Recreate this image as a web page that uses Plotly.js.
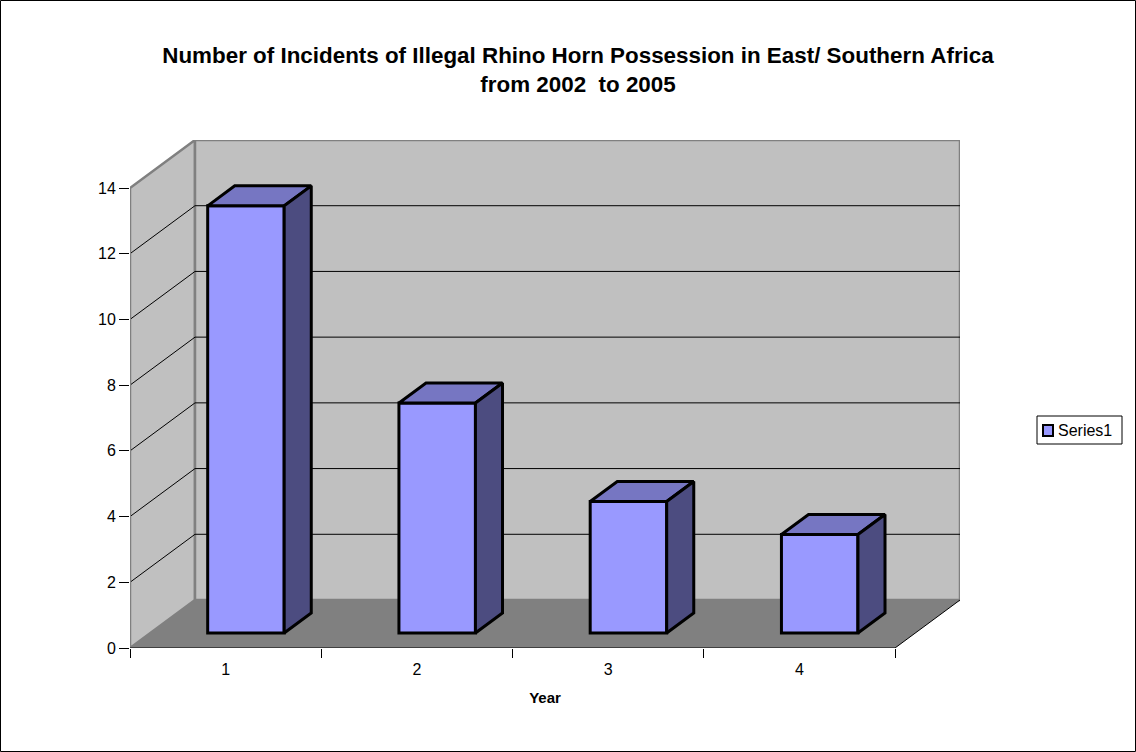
<!DOCTYPE html>
<html>
<head>
<meta charset="utf-8">
<script src="https://cdn.plot.ly/plotly-3.0.1.min.js"></script>
<style>
  html, body { margin: 0; padding: 0; background: #fff; }
  #chart { width: 1136px; height: 752px; }
</style>
</head>
<body>
<div id="chart"></div>
<script>
// Incidents per year (categories 1..4)
const categories = [1, 2, 3, 4];
const incidents = [13, 7, 4, 3];
const yTicks = [0, 2, 4, 6, 8, 10, 12, 14];
const seriesName = "Series1";

// Oblique "3D" box geometry, expressed in axis units
const W = 1136, H = 752;
const margin = { l: 130, r: 176, t: 140, b: 104 };
const catPx = 191.25;            // pixels per category on the front plane
const valPx = 460 / 14;          // pixels per value unit
const depthX = 65 / catPx;       // full depth shift in x (category units)
const depthY = 48 / valPx;       // full depth shift in y (value units)
const xMin = 0.5, xMax = categories.length + 0.5;
const yMax = 14;

// Bars sit between these depth fractions of the box
const barD0 = 0.3125, barD1 = 0.729;
const barWidth = 0.40;
const offX = barD0 * depthX, offY = barD0 * depthY;
const bx = (barD1 - barD0) * depthX, by = (barD1 - barD0) * depthY;

const frontColor = "#9999ff";
const topColor = "#7676c2";
const sideColor = "#4c4c80";
const wallColor = "#c0c0c0";
const floorColor = "#808080";

const traces = [];

// Front faces of the columns
traces.push({
  type: "bar",
  name: seriesName,
  x: categories.map(c => c + offX),
  y: incidents,
  base: incidents.map(() => offY),
  width: barWidth,
  marker: { color: frontColor, line: { color: "#000", width: 3 } },
  hoverinfo: "skip",
  showlegend: false,
  xaxis: "x", yaxis: "y"
});

// Top and side faces
categories.forEach((c, i) => {
  const x0 = c + offX - barWidth / 2, x1 = c + offX + barWidth / 2;
  const top = offY + incidents[i], base = offY;
  traces.push({
    type: "scatter", mode: "lines", fill: "toself",
    x: [x0, x1, x1 + bx, x0 + bx, x0],
    y: [top, top, top + by, top + by, top],
    fillcolor: topColor, line: { color: "#000", width: 3 },
    hoverinfo: "skip", showlegend: false
  });
  traces.push({
    type: "scatter", mode: "lines", fill: "toself",
    x: [x1, x1, x1 + bx, x1 + bx, x1],
    y: [base, top, top + by, base + by, base],
    fillcolor: sideColor, line: { color: "#000", width: 3 },
    hoverinfo: "skip", showlegend: false
  });
});

// Walls, floor, gridlines
const shapes = [];
const P = (x, y) => x + "," + y;
// left wall
shapes.push({
  type: "path", xref: "x", yref: "y", layer: "below",
  path: "M" + P(xMin, 0) + " L" + P(xMin, yMax) + " L" + P(xMin + depthX, yMax + depthY) +
        " L" + P(xMin + depthX, depthY) + " Z",
  fillcolor: wallColor, line: { color: "#808080", width: 2.5 }
});
// back wall
shapes.push({
  type: "rect", xref: "x", yref: "y", layer: "below",
  x0: xMin + depthX, x1: xMax + depthX, y0: depthY, y1: yMax + depthY,
  fillcolor: wallColor, line: { color: "#808080", width: 2.5 }
});
// floor
shapes.push({
  type: "path", xref: "x", yref: "y", layer: "below",
  path: "M" + P(xMin, 0) + " L" + P(xMax, 0) + " L" + P(xMax + depthX, depthY) +
        " L" + P(xMin + depthX, depthY) + " Z",
  fillcolor: floorColor, line: { width: 0 }
});
// gridlines on left and back walls
yTicks.filter(v => v > 0 && v < yMax).forEach(v => {
  shapes.push({
    type: "line", xref: "x", yref: "y", layer: "below",
    x0: xMin, y0: v, x1: xMin + depthX, y1: v + depthY,
    line: { color: "#000", width: 1 }
  });
  shapes.push({
    type: "line", xref: "x", yref: "y", layer: "below",
    x0: xMin + depthX, y0: v + depthY, x1: xMax + depthX, y1: v + depthY,
    line: { color: "#000", width: 1 }
  });
});
// value axis line
shapes.push({
  type: "line", xref: "x", yref: "y", layer: "below",
  x0: xMin, y0: 0, x1: xMin, y1: yMax,
  line: { color: "#808080", width: 2 }
});
// front and right floor edges
shapes.push({
  type: "line", xref: "x", yref: "y", layer: "above",
  x0: xMin, y0: 0, x1: xMax, y1: 0,
  line: { color: "#000", width: 1.2 }
});
shapes.push({
  type: "line", xref: "x", yref: "y", layer: "below",
  x0: xMax, y0: 0, x1: xMax + depthX, y1: depthY,
  line: { color: "#000", width: 1 }
});

// pixel -> paper helpers for frame and legend box
const pw = W - margin.l - margin.r, ph = H - margin.t - margin.b;
const px = v => (v - margin.l) / pw;
const py = v => (H - margin.b - v) / ph;

// chart frame
shapes.push({
  type: "rect", xref: "paper", yref: "paper", layer: "above",
  x0: px(0.5), x1: px(W - 0.5), y0: py(H - 0.5), y1: py(0.5),
  line: { color: "#000", width: 1 }, fillcolor: "rgba(0,0,0,0)"
});
// legend box and swatch
shapes.push({
  type: "rect", xref: "paper", yref: "paper", layer: "above",
  x0: px(1037), x1: px(1122), y0: py(444), y1: py(416),
  line: { color: "#000", width: 1 }, fillcolor: "#fff"
});
shapes.push({
  type: "rect", xref: "paper", yref: "paper", layer: "above",
  x0: px(1043), x1: px(1053), y0: py(436), y1: py(425),
  line: { color: "#000", width: 2 }, fillcolor: frontColor
});

const font = { family: "Liberation Sans, Arial, sans-serif", color: "#000" };

const annotations = [{
  xref: "paper", yref: "paper", x: px(1056), y: py(430.5),
  xanchor: "left", yanchor: "middle", showarrow: false,
  text: seriesName, font: Object.assign({}, font, { size: 16 })
}];

// boundary tick marks between categories
traces.push({
  type: "scatter", mode: "none", x: [xMin], y: [0],
  xaxis: "x2", yaxis: "y", hoverinfo: "skip", showlegend: false
});

const layout = {
  width: W, height: H,
  margin: margin,
  paper_bgcolor: "#fff", plot_bgcolor: "rgba(0,0,0,0)",
  font: Object.assign({ size: 16 }, font),
  title: {
    text: "<b>Number of Incidents of Illegal Rhino Horn Possession in East/ Southern Africa<br>from 2002  to 2005</b>",
    font: Object.assign({}, font, { size: 22.4 }),
    xref: "container", x: 578 / W, xanchor: "center",
    yref: "container", y: 1 - 63 / H, yanchor: "top"
  },
  xaxis: {
    range: [xMin, xMax + depthX], fixedrange: true,
    tickvals: categories, ticktext: categories.map(String),
    ticks: "", showline: false, showgrid: false, zeroline: false,
    ticklabelstandoff: 10,
    tickfont: Object.assign({}, font, { size: 16 }),
    title: { text: "<b>Year</b>", font: Object.assign({}, font, { size: 15 }), standoff: 15 }
  },
  xaxis2: {
    overlaying: "x", anchor: "y", side: "bottom", matches: "x",
    range: [xMin, xMax + depthX],
    tickvals: categories.map(c => c - 0.5).concat([xMax]),
    ticks: "outside", ticklen: 9, tickcolor: "#000", tickwidth: 1,
    showticklabels: false, showline: false, showgrid: false, zeroline: false
  },
  yaxis: {
    range: [0, yMax + depthY], fixedrange: true,
    tickvals: yTicks, ticktext: yTicks.map(String),
    ticks: "outside", ticklen: 10, tickcolor: "#000", tickwidth: 1,
    showline: false, showgrid: false, zeroline: false,
    tickfont: Object.assign({}, font, { size: 16 })
  },
  bargap: 0,
  shapes: shapes,
  annotations: annotations,
  showlegend: false
};

Plotly.newPlot("chart", traces, layout, { staticPlot: true, displayModeBar: false });
</script>
</body>
</html>
